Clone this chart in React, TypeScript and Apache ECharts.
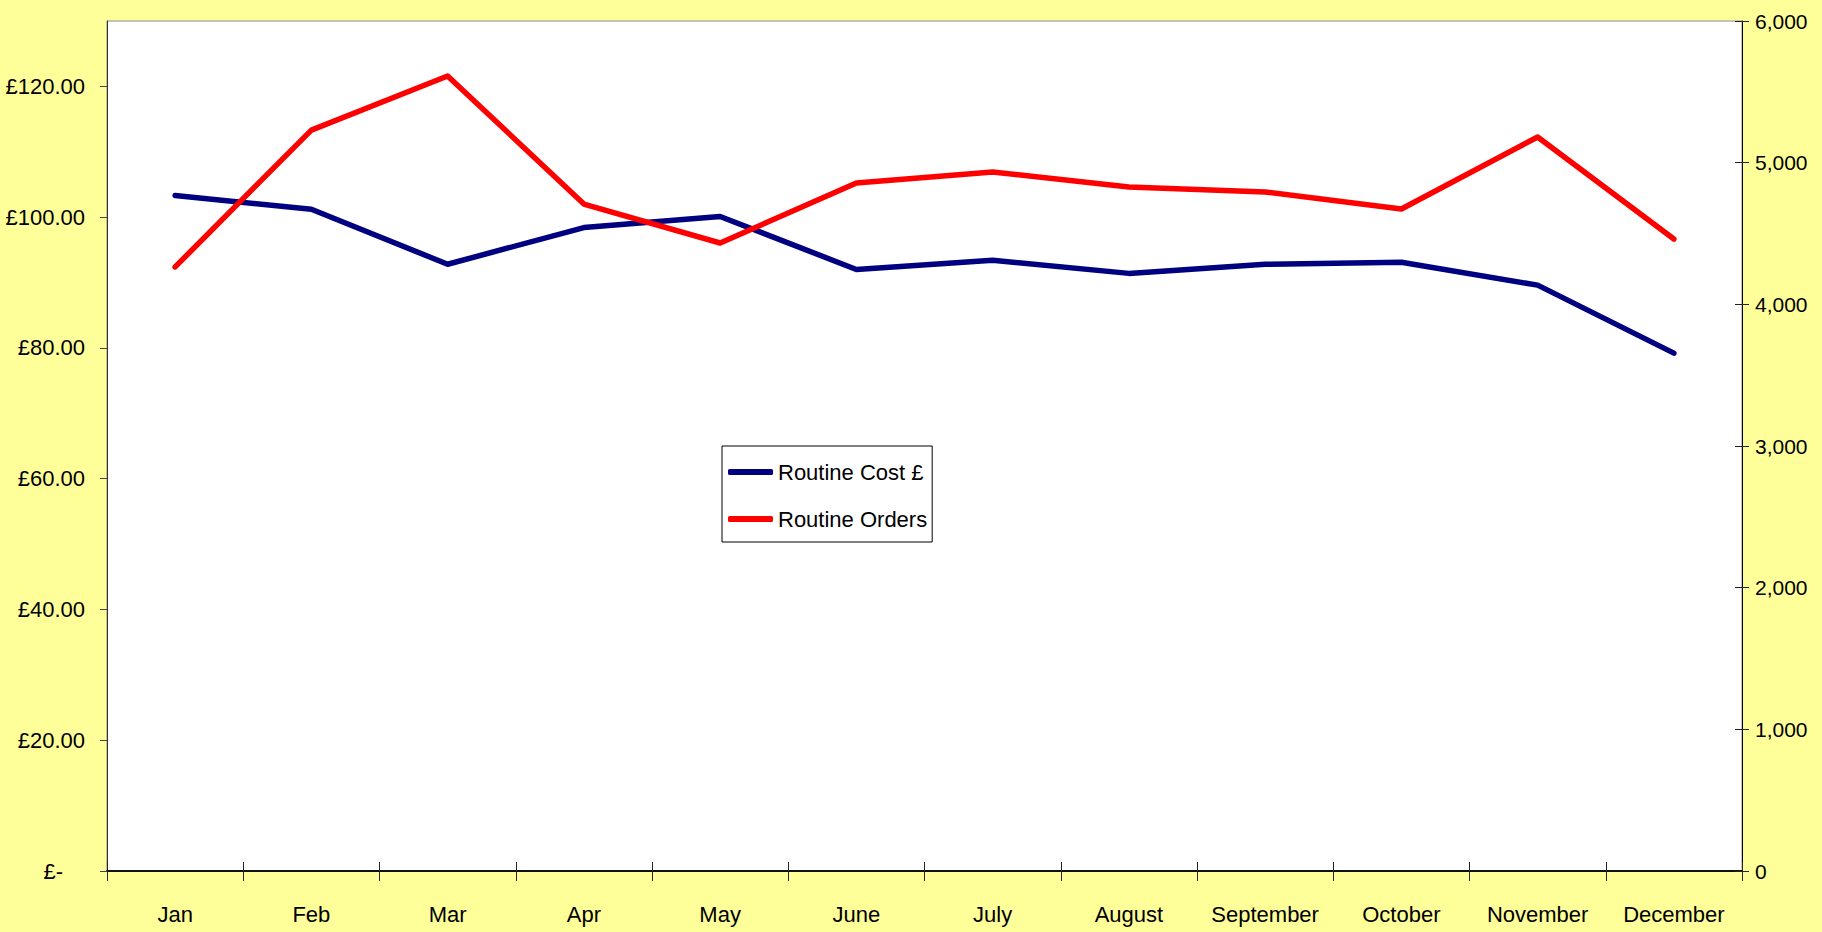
import React, { useEffect, useRef } from "react";
import * as echarts from "echarts";

const months = ["Jan", "Feb", "Mar", "Apr", "May", "June", "July", "August", "September", "October", "November", "December"];
const routineCost = [103.3, 101.2, 92.8, 98.4, 100.1, 92.0, 93.4, 91.4, 92.8, 93.1, 89.6, 79.2];
const routineOrders = [4264, 5230, 5612, 4708, 4433, 4856, 4934, 4828, 4793, 4673, 5181, 4461];
const costTicks = [0, 20, 40, 60, 80, 100, 120];
const orderTicks = [0, 1000, 2000, 3000, 4000, 5000, 6000];

const SANS = '"Liberation Sans", Arial, sans-serif';

export default function App() {
  const ref = useRef<HTMLDivElement>(null);
  useEffect(() => {
    if (!ref.current) return;
    const chart = echarts.init(ref.current, undefined, { renderer: "svg" });
    const gridPos = { left: 107, right: 80, top: 21, bottom: 61, containLabel: false, outerBoundsMode: "none" };
    chart.setOption({
      animation: false,
      backgroundColor: "#FFFF99",
      grid: [
        { ...gridPos, show: true, backgroundColor: "#ffffff", borderColor: "#8a8a8a", borderWidth: 1 },
        { ...gridPos, show: false },
      ],
      legend: {
        orient: "vertical",
        left: 722,
        top: 446,
        icon: "roundRect",
        itemWidth: 45,
        itemHeight: 6,
        itemGap: 25,
        padding: [15, 5, 12, 6],
        borderColor: "#000",
        borderWidth: 1,
        backgroundColor: "#ffffff",
        textStyle: { fontFamily: SANS, fontSize: 22, color: "#000" },
        data: ["Routine Cost £", "Routine Orders"],
      },
      xAxis: [
        {
          type: "category",
          gridIndex: 0,
          data: months,
          boundaryGap: true,
          axisLine: { show: true, lineStyle: { color: "#111", width: 2 } },
          axisTick: { show: true, inside: false, length: 10, lineStyle: { color: "#222" } },
          axisLabel: { fontFamily: SANS, fontSize: 22, color: "#000", margin: 32, interval: 0 },
          splitLine: { show: false },
        },
        {
          type: "category",
          gridIndex: 1,
          data: months,
          boundaryGap: true,
          axisLine: { show: false },
          axisTick: { show: true, inside: true, length: 9, lineStyle: { color: "#222" } },
          axisLabel: { show: false },
          splitLine: { show: false },
        },
      ],
      yAxis: [
        {
          type: "value",
          gridIndex: 0,
          position: "left",
          min: 0,
          max: 130,
          interval: 20,
          axisLine: { show: true, lineStyle: { color: "#333", width: 1 } },
          axisTick: { show: true, inside: false, length: 7, customValues: costTicks, lineStyle: { color: "#444" } },
          axisLabel: {
            customValues: costTicks,
            fontFamily: SANS,
            fontSize: 22,
            color: "#000",
            margin: 22,
            formatter: (v: number) => (v === 0 ? "{z|£-}" : "£" + v.toFixed(2)),
            rich: { z: { fontFamily: SANS, fontSize: 22, color: "#000", padding: [0, 22, 0, 0] } },
          },
          splitLine: { show: false },
        },
        {
          type: "value",
          gridIndex: 0,
          position: "right",
          min: 0,
          max: 6000,
          interval: 1000,
          axisLine: { show: true, lineStyle: { color: "#000", width: 1 } },
          axisTick: { show: true, inside: false, length: 7, customValues: orderTicks, lineStyle: { color: "#222" } },
          axisLabel: {
            customValues: orderTicks,
            fontFamily: SANS,
            fontSize: 21,
            color: "#000",
            margin: 13,
            formatter: (v: number) => v.toLocaleString("en-GB"),
          },
          splitLine: { show: false },
        },
        {
          type: "value",
          gridIndex: 1,
          position: "right",
          min: 0,
          max: 6000,
          interval: 1000,
          axisLine: { show: false },
          axisTick: { show: true, inside: true, length: 7, customValues: orderTicks, lineStyle: { color: "#222" } },
          axisLabel: { show: false },
          splitLine: { show: false },
        },
      ],
      series: [
        {
          name: "Routine Cost £",
          type: "line",
          xAxisIndex: 0,
          yAxisIndex: 0,
          data: routineCost,
          symbol: "none",
          color: "#000080",
          lineStyle: { color: "#000080", width: 5.5, cap: "round", join: "round" },
          z: 3,
        },
        {
          name: "Routine Orders",
          type: "line",
          xAxisIndex: 0,
          yAxisIndex: 1,
          data: routineOrders,
          symbol: "none",
          color: "#FF0000",
          lineStyle: { color: "#FF0000", width: 5.5, cap: "round", join: "round" },
          z: 4,
        },
      ],
    });
    return () => chart.dispose();
  }, []);
  return (
    <div
      ref={ref}
      style={{ position: "fixed", left: 0, top: 0, width: "1822px", height: "932px" }}
    />
  );
}
